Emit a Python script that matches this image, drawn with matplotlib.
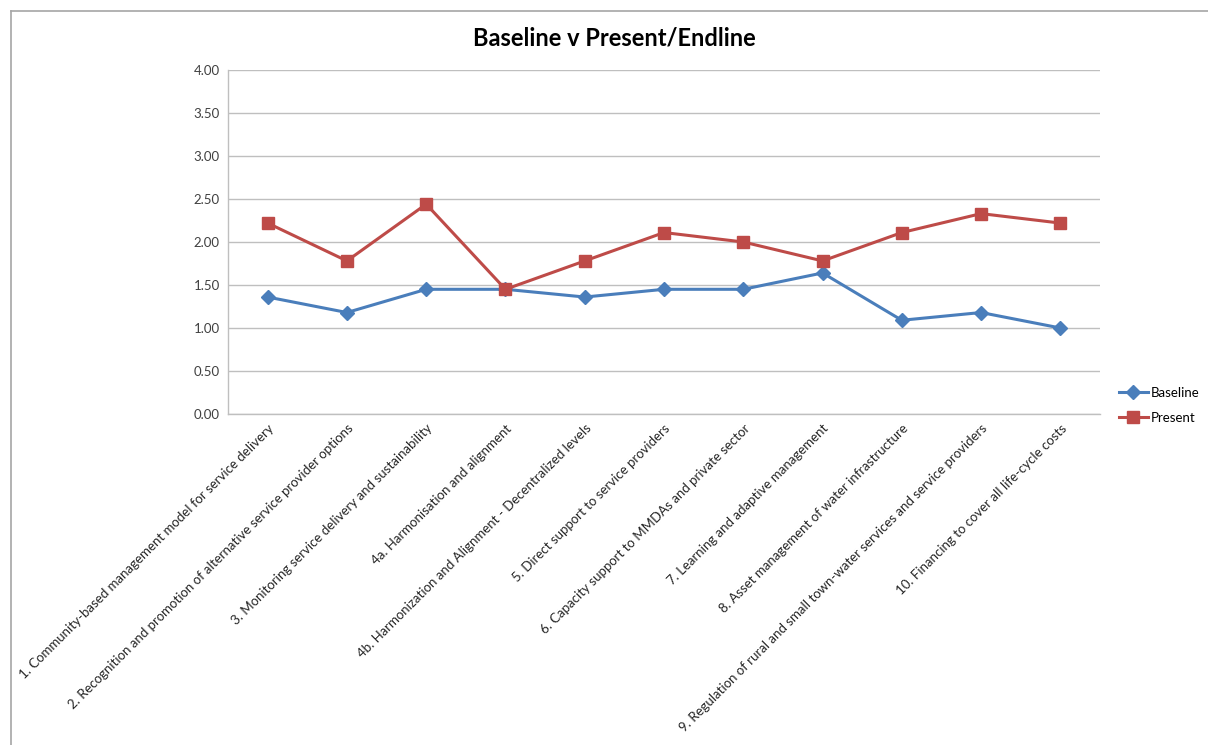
import matplotlib.pyplot as plt
from matplotlib.lines import Line2D

# Data
categories = [
    "1. Community-based management model for service delivery",
    "2. Recognition and promotion of alternative service provider options",
    "3. Monitoring service delivery and sustainability",
    "4a. Harmonisation and alignment",
    "4b. Harmonization and Alignment - Decentralized levels",
    "5. Direct support to service providers",
    "6. Capacity support to MMDAs and private sector",
    "7. Learning and adaptive management",
    "8. Asset management of water infrastructure",
    "9. Regulation of rural and small town-water services and service providers",
    "10. Financing to cover all life-cycle costs",
]
baseline = [1.36, 1.18, 1.45, 1.45, 1.36, 1.45, 1.45, 1.64, 1.09, 1.18, 1.00]
present = [2.22, 1.78, 2.44, 1.45, 1.78, 2.11, 2.00, 1.78, 2.11, 2.33, 2.22]
y_ticks = [0, 0.5, 1, 1.5, 2, 2.5, 3, 3.5, 4]

plt.rcParams['font.family'] = ['Lato', 'DejaVu Sans']

fig = plt.figure(figsize=(12.08, 7.45), dpi=100)
# chart area border (only left and top edges are visible in the original)
bx, by = 11 / 1208, 1 - 11 / 745
fig.lines.append(Line2D([bx, bx], [0, by], transform=fig.transFigure,
                        color='#a6a6a6', linewidth=1.2))
fig.lines.append(Line2D([bx, 1], [by, by], transform=fig.transFigure,
                        color='#a6a6a6', linewidth=1.2))

ax = fig.add_axes([228 / 1208, 1 - 414 / 745, 872 / 1208, 344 / 745])
x = list(range(len(categories)))
ax.plot(x, baseline, color='#4a7ebb', linewidth=2.2, marker='D', markersize=7,
        label='Baseline')
ax.plot(x, present, color='#be4b48', linewidth=2.2, marker='s', markersize=8,
        label='Present')

ax.set_xlim(-0.5, len(categories) - 0.5)
ax.set_ylim(0, 4)
ax.set_yticks(y_ticks)
ax.set_yticklabels([f"{v:.2f}" for v in y_ticks], fontsize=9.5, color='#404040')
ax.set_xticks(x)
ax.set_xticklabels(categories, rotation=45, ha='right', va='top',
                   rotation_mode='anchor', fontsize=9.5, color='#262626')
ax.tick_params(axis='both', length=0, pad=6)
ax.grid(axis='y', color='#bfbfbf', linewidth=1)
ax.set_axisbelow(True)
for s in ['top', 'right']:
    ax.spines[s].set_visible(False)
for s in ['left', 'bottom']:
    ax.spines[s].set_color('#bfbfbf')
    ax.spines[s].set_linewidth(1)

fig.text(614 / 1208, 1 - 38 / 745, "Baseline v Present/Endline", ha='center', va='center',
         fontsize=17, fontweight='bold', color='black')

ax.legend(loc='center left', bbox_to_anchor=(1.008, 0.025), frameon=False, fontsize=9.5,
          handlelength=2.2, handletextpad=0.2, labelspacing=1.0)

fig.savefig('out.png', dpi=100)
